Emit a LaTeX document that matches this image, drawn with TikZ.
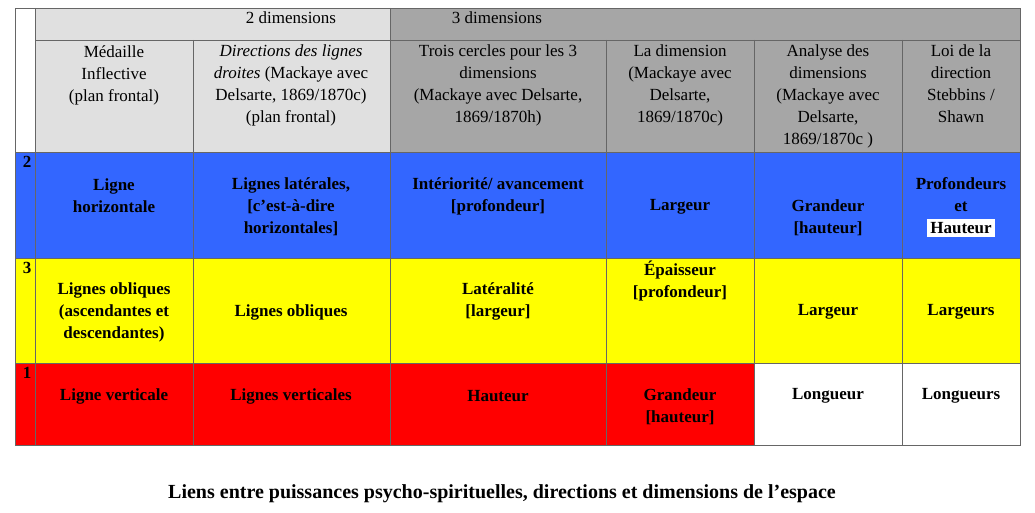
\documentclass[tikz,border=0pt]{standalone}
\usepackage{fontspec}
\setmainfont{Liberation Serif}
\begin{document}
\begin{tikzpicture}[x=1pt,y=-1pt,
  every node/.style={inner sep=0pt,font=\fontsize{17}{22}\selectfont,align=center},
  hd/.style={anchor=north},
  bd/.style={font=\fontsize{17}{22}\selectfont\bfseries}]
\useasboundingbox (0,0) rectangle (1035,513);
\definecolor{lg}{HTML}{E0E0E0}\definecolor{dg}{HTML}{A6A6A6}
\definecolor{bl}{HTML}{3366FF}\definecolor{ye}{HTML}{FFFF00}\definecolor{rd}{HTML}{FF0000}
\fill[lg] (35,8) rectangle (390,152);
\fill[dg] (390,8) rectangle (1020,152);
\fill[bl] (15,152) rectangle (1020,258);
\fill[ye] (15,258) rectangle (1020,363);
\fill[rd] (15,363) rectangle (754,445);
\draw[gray!80!black,line width=0.8] (15,8) rectangle (1020,445)
 (35,8)--(35,445) (390,8)--(390,445)
 (35,40)--(1020,40) (15,152)--(1020,152) (15,258)--(1020,258) (15,363)--(1020,363)
 (193,40)--(193,445) (606,40)--(606,445) (754,40)--(754,445) (902,40)--(902,445);
\node (d2) at (291,18) {2 dimensions};
\node (d3) at (497,18) {3 dimensions};
\node[hd] (h1) at (114,45) {Médaille\\Inflective\\(plan frontal)};
\node[hd] (h2) at (291,45) {\textit{Directions des lignes}\\\textit{droites} (Mackaye avec\\Delsarte, 1869/1870c)\\(plan frontal)};
\node[hd] (h3) at (498,45) {Trois cercles pour les 3\\dimensions\\(Mackaye avec Delsarte,\\1869/1870h)};
\node[hd] (h4) at (680,45) {La dimension\\(Mackaye avec\\Delsarte,\\1869/1870c)};
\node[hd] (h5) at (828,45) {Analyse des\\dimensions\\(Mackaye avec\\Delsarte,\\1869/1870c )};
\node[hd] (h6) at (961,45) {Loi de la\\direction\\Stebbins /\\Shawn};
\node[bd,anchor=north] (n2) at (27,156) {2};
\node[bd,anchor=north] (n3) at (27,262) {3};
\node[bd,anchor=north] (n1) at (27,367) {1};
\node[bd] (b1) at (114,196) {Ligne\\horizontale};
\node[bd] (b2) at (291,207) {Lignes latérales,\\{[c’est-à-dire}\\horizontales]};
\node[bd] (b3) at (498,196) {Intériorité/ avancement\\{[profondeur]}};
\node[bd] (b4) at (680,207) {Largeur};
\node[bd] (b5) at (828,218) {Grandeur\\{[hauteur]}};
\node[bd] (b6) at (961,207) {Profondeurs\\et\\\colorbox{white}{\rule{0pt}{11pt}Hauteur}};
\node[bd] (y1) at (114,312) {Lignes obliques\\(ascendantes et\\descendantes)};
\node[bd] (y2) at (291,312) {Lignes obliques};
\node[bd] (y3) at (498,301) {Latéralité\\{[largeur]}};
\node[bd,anchor=north] (y4) at (680,261) {Épaisseur\\{[profondeur]}};
\node[bd] (y5) at (828,312) {Largeur};
\node[bd] (y6) at (961,312) {Largeurs};
\node[bd] (r1) at (114,396) {Ligne verticale};
\node[bd] (r2) at (291,396) {Lignes verticales};
\node[bd] (r3) at (498,396) {Hauteur};
\node[bd] (r4) at (680,407) {Grandeur\\{[hauteur]}};
\node[bd] (r5) at (828,396) {Longueur};
\node[bd] (r6) at (961,396) {Longueurs};
\node[font=\fontsize{20}{24}\selectfont\bfseries] (cap) at (502,494) {Liens entre puissances psycho-spirituelles, directions et dimensions de l’espace};
\end{tikzpicture}
\end{document}
